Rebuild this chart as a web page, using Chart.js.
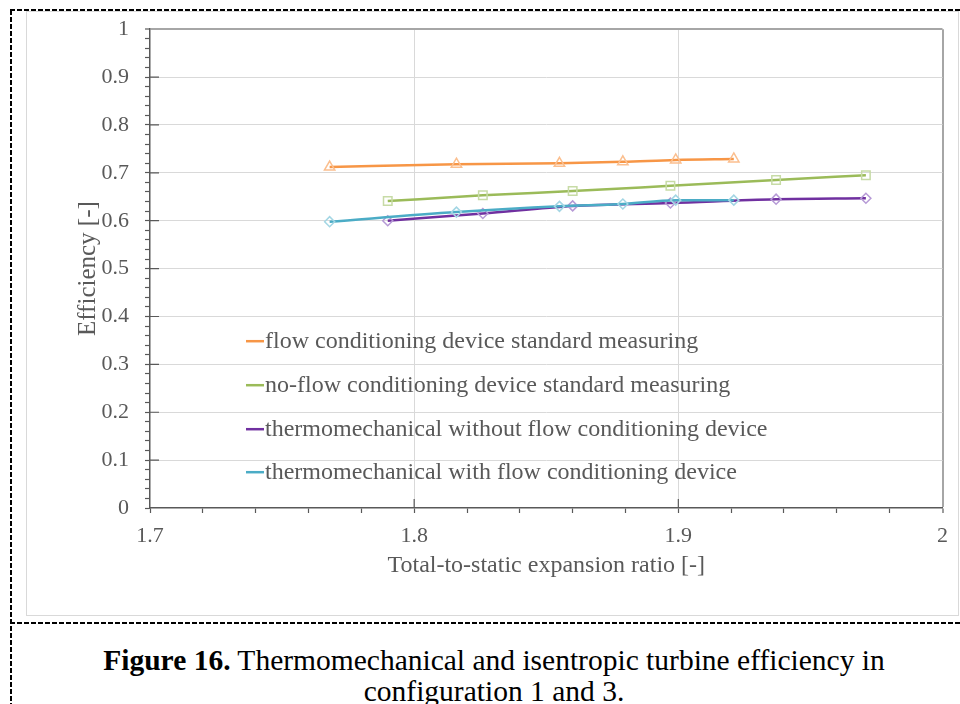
<!DOCTYPE html>
<html>
<head>
  <title>Turbine efficiency</title>
  <script src="https://cdn.jsdelivr.net/npm/chart.js"></script>
  <style>
    body {
      margin: 0;
      background: #fff;
      font-family: 'Liberation Serif', 'Times New Roman', serif;
    }
    .page {
      position: relative;
      width: 960px;
      height: 704px;
      overflow: hidden;
    }
    .frame {
      position: absolute;
      left: 26px;
      top: 11px;
      width: 931px;
      height: 603px;
      border: 1px solid #d9d9d9;
    }
    .chart-box {
      position: absolute;
      left: 26px;
      top: 0;
      width: 932px;
      height: 615px;
    }
    .dash-h {
      position: absolute;
      left: 10px;
      width: 950px;
      height: 2px;
      background: repeating-linear-gradient(to right, #000 0 5px, transparent 5px 7px);
    }
    .dash-v {
      position: absolute;
      left: 10px;
      top: 10px;
      width: 2px;
      height: 694px;
      background: repeating-linear-gradient(to bottom, #000 0 5px, transparent 5px 7px);
    }
    .caption {
      position: absolute;
      left: 28px;
      top: 645px;
      width: 932px;
      text-align: center;
      font-size: 29.5px;
      line-height: 31px;
      color: #000;
    }
  </style>
</head>
<body>
  <div class="page">
    <div class="frame"></div>
    <div class="chart-box"><canvas id="effChart"></canvas></div>
    <div class="dash-h" style="top: 9px;"></div>
    <div class="dash-h" style="top: 622px;"></div>
    <div class="dash-v"></div>
    <div class="caption"><b>Figure 16.</b> Thermomechanical and isentropic turbine efficiency in<br>configuration 1 and 3.</div>
  </div>

  <script>
    // expansion ratios (x) and efficiencies (y)
    const ratioWithDevice = [1.768, 1.816, 1.855, 1.879, 1.899, 1.921];
    const ratioNoDevice = [1.790, 1.826, 1.860, 1.897, 1.937, 1.971];

    const effFlowStd = [0.712, 0.718, 0.720, 0.723, 0.727, 0.729];
    const effNoFlowStd = [0.641, 0.653, 0.662, 0.673, 0.685, 0.695];
    const effThermoWithout = [0.600, 0.615, 0.631, 0.637, 0.645, 0.647];
    const effThermoWith = [0.598, 0.618, 0.630, 0.635, 0.643, 0.643];

    const seriesLabels = [
      'flow conditioning device standard measuring',
      'no-flow conditioning device standard measuring',
      'thermomechanical without flow conditioning device',
      'thermomechanical with flow conditioning device'
    ];

    const xTicks = [1.7, 1.8, 1.9, 2];
    const yTicks = [0, 0.1, 0.2, 0.3, 0.4, 0.5, 0.6, 0.7, 0.8, 0.9, 1];

    const FONT = "'Liberation Serif', 'Times New Roman', serif";
    const TXT = '#595959';

    function pts(xs, ys) {
      return xs.map((x, i) => ({ x: x, y: ys[i] }));
    }

    function isMajor(v, list) {
      return list.some(t => Math.abs(t - v) < 1e-6);
    }

    // inward part of the major tick marks
    const innerTicks = {
      id: 'innerTicks',
      afterDraw(chart) {
        const ctx = chart.ctx;
        const a = chart.chartArea;
        const xs = chart.scales.x, ys = chart.scales.y;
        ctx.save();
        ctx.strokeStyle = TXT;
        ctx.lineWidth = 1.2;
        ctx.beginPath();
        yTicks.slice(1, -1).forEach(v => {
          const p = ys.getPixelForValue(v);
          ctx.moveTo(a.left, p);
          ctx.lineTo(a.left + 9, p);
        });
        xTicks.slice(1, -1).forEach(v => {
          const p = xs.getPixelForValue(v);
          ctx.moveTo(p, a.bottom);
          ctx.lineTo(p, a.bottom - 9);
        });
        ctx.stroke();
        ctx.restore();
      }
    };

    // legend drawn inside the plot area, line samples only
    const innerLegend = {
      id: 'innerLegend',
      afterDraw(chart) {
        const ctx = chart.ctx;
        const a = chart.chartArea;
        const rows = [312, 356, 400, 443];
        ctx.save();
        ctx.font = '24px ' + FONT;
        ctx.textBaseline = 'middle';
        ctx.fillStyle = TXT;
        chart.data.datasets.forEach((ds, i) => {
          const y = a.top + rows[i];
          ctx.strokeStyle = ds.borderColor;
          ctx.lineWidth = 2.5;
          ctx.beginPath();
          ctx.moveTo(a.left + 96, y);
          ctx.lineTo(a.left + 114, y);
          ctx.stroke();
          ctx.fillText(ds.label, a.left + 115, y + 1);
        });
        ctx.restore();
      }
    };

    const datasets = [
      {
        label: seriesLabels[0],
        data: pts(ratioWithDevice, effFlowStd),
        borderColor: '#f79646',
        pointBorderColor: '#fbbf8f',
        pointStyle: 'triangle',
        pointRadius: 6,
        order: 3
      },
      {
        label: seriesLabels[1],
        data: pts(ratioNoDevice, effNoFlowStd),
        borderColor: '#9bbb59',
        pointBorderColor: '#c7dba6',
        pointStyle: 'rect',
        pointRadius: 6,
        order: 2
      },
      {
        label: seriesLabels[2],
        data: pts(ratioNoDevice, effThermoWithout),
        borderColor: '#7030a0',
        pointBorderColor: '#b69ad6',
        pointStyle: 'rectRot',
        pointRadius: 5,
        order: 1
      },
      {
        label: seriesLabels[3],
        data: pts(ratioWithDevice, effThermoWith),
        borderColor: '#4bacc6',
        pointBorderColor: '#a3d6e4',
        pointStyle: 'rectRot',
        pointRadius: 5,
        order: 0
      }
    ].map(d => Object.assign({
      showLine: true,
      borderWidth: 2.5,
      pointBackgroundColor: 'rgba(255,255,255,0)',
      pointBorderWidth: 1.5,
      cubicInterpolationMode: 'monotone',
      fill: false
    }, d));

    new Chart(document.getElementById('effChart'), {
      type: 'scatter',
      data: { datasets: datasets },
      plugins: [innerTicks, innerLegend],
      options: {
        responsive: true,
        maintainAspectRatio: false,
        animation: false,
        layout: { padding: { top: 0, right: 15, left: 0, bottom: 0 } },
        plugins: {
          legend: { display: false },
          tooltip: { enabled: false }
        },
        scales: {
          x: {
            type: 'linear',
            min: 1.7,
            max: 2,
            afterFit: s => { s.height = 107; },
            ticks: {
              stepSize: 0.02,
              autoSkip: false,
              maxRotation: 0,
              padding: 10,
              color: TXT,
              font: { family: FONT, size: 22 },
              callback: v => isMajor(v, xTicks) ? String(Math.round(v * 10) / 10) : ''
            },
            grid: {
              color: c => {
                const v = c.tick.value;
                if (Math.abs(v - 2) < 1e-6) return '#a6a6a6';
                if (Math.abs(v - 1.7) < 1e-6) return 'rgba(0,0,0,0)';
                return isMajor(v, xTicks) ? '#d9d9d9' : 'rgba(0,0,0,0)';
              },
              lineWidth: c => Math.abs(c.tick.value - 2) < 1e-6 ? 2 : 1,
              tickColor: TXT,
              tickWidth: 1.2,
              tickLength: 5
            },
            border: { color: TXT, width: 1.5 },
            title: {
              display: true,
              text: 'Total-to-static expansion ratio [-]',
              color: TXT,
              font: { family: FONT, size: 24 },
              padding: { top: 0, bottom: 35 }
            }
          },
          y: {
            min: 0,
            max: 1,
            afterFit: s => { s.width = 124; },
            ticks: {
              stepSize: 0.02,
              autoSkip: false,
              padding: 16,
              color: TXT,
              font: { family: FONT, size: 22 },
              callback: v => isMajor(v, yTicks) ? String(Math.round(v * 10) / 10) : ''
            },
            grid: {
              color: c => {
                const v = c.tick.value;
                if (Math.abs(v - 1) < 1e-6) return '#a6a6a6';
                if (Math.abs(v) < 1e-6) return 'rgba(0,0,0,0)';
                return isMajor(v, yTicks) ? '#d9d9d9' : 'rgba(0,0,0,0)';
              },
              lineWidth: c => Math.abs(c.tick.value - 1) < 1e-6 ? 2 : 1,
              tickColor: TXT,
              tickWidth: 1.2,
              tickLength: 5
            },
            border: { color: TXT, width: 1.5 },
            title: {
              display: true,
              text: 'Efficiency [-]',
              color: TXT,
              font: { family: FONT, size: 25 },
              padding: { top: 47, bottom: 0 }
            }
          }
        }
      }
    });
  </script>
</body>
</html>
